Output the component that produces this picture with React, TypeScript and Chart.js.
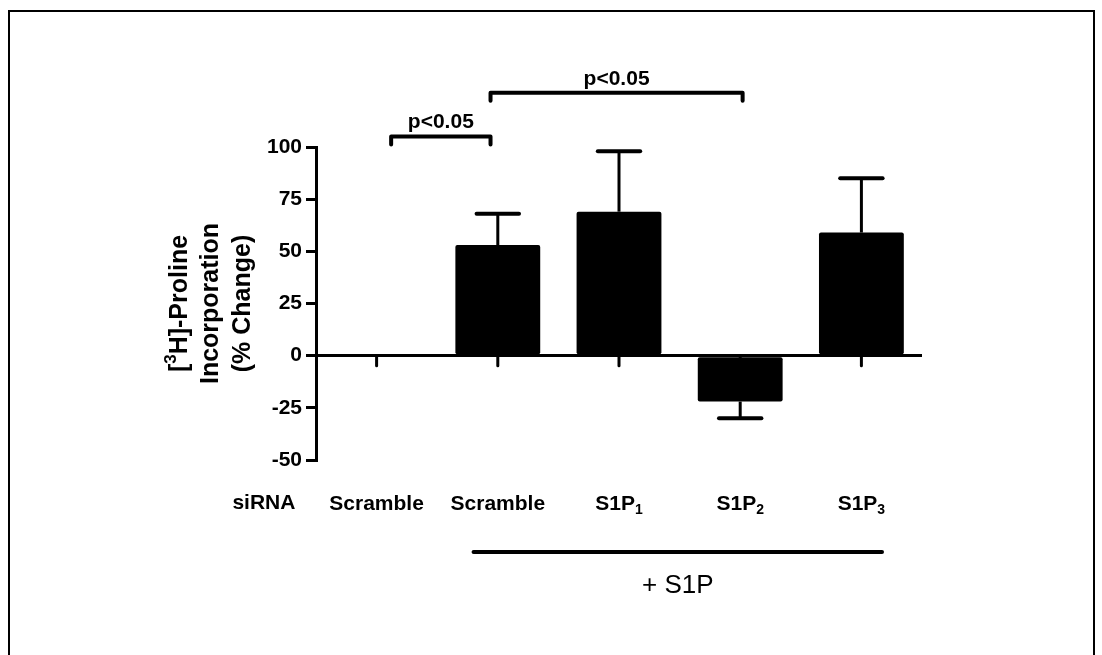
import React, { useEffect, useRef } from "react";
import { Chart, registerables } from "chart.js";

Chart.register(...registerables);

// ---- data ----
const categoryBase = ["Scramble", "Scramble", "S1P", "S1P", "S1P"];
const categorySub = ["", "", "1", "2", "3"];
const values = [0, 53, 69, -22, 59];
const errors = [0, 15, 29, 8, 26];
const yMin = -50;
const yMax = 100;
const yStep = 25;
const rowLabel = "siRNA";
const groupLabel = "+ S1P";
const groupFrom = 0.8; // category units
const groupTo = 4.17;
const bracketFrom = [0.12, 0.94];
const bracketTo = [0.94, 3.02];
const bracketLevel = [105, 126];
const bracketText = ["p<0.05", "p<0.05"];

const FONT = "Arial, 'Liberation Sans', sans-serif";

type Seg = { t: string; sup?: boolean; sub?: boolean };

function drawRich(ctx: CanvasRenderingContext2D, segs: Seg[], cx: number, cy: number, size: number) {
  const main = `bold ${size}px ${FONT}`;
  const small = `bold ${Math.round(size * 0.68)}px ${FONT}`;
  let total = 0;
  const widths = segs.map((s) => {
    ctx.font = s.sup || s.sub ? small : main;
    const w = ctx.measureText(s.t).width;
    total += w;
    return w;
  });
  let x = cx - total / 2;
  ctx.textAlign = "left";
  ctx.textBaseline = "middle";
  segs.forEach((s, i) => {
    ctx.font = s.sup || s.sub ? small : main;
    let dy = 0;
    if (s.sup) dy = -size * 0.35;
    if (s.sub) dy = size * 0.3;
    ctx.fillText(s.t, x, cy + dy);
    x += widths[i];
  });
}

const annotations = {
  id: "annotations",
  afterDatasetsDraw(chart: any) {
    const ctx: CanvasRenderingContext2D = chart.ctx;
    const xs = chart.scales.x;
    const ys = chart.scales.y;
    const area = chart.chartArea;
    const meta = chart.getDatasetMeta(0);
    const spacing = xs.getPixelForValue(1) - xs.getPixelForValue(0);
    const catX = (v: number) => xs.getPixelForValue(0) + v * spacing;
    const zeroY = ys.getPixelForValue(0);
    ctx.save();
    ctx.strokeStyle = "#000";
    ctx.fillStyle = "#000";

    // error bars
    values.forEach((v, i) => {
      if (!errors[i]) return;
      const bar = meta.data[i];
      const x = bar.x;
      const sign = v >= 0 ? 1 : -1;
      const y0 = ys.getPixelForValue(v);
      const y1 = ys.getPixelForValue(v + sign * errors[i]);
      ctx.lineWidth = 3;
      ctx.lineCap = "butt";
      ctx.beginPath();
      ctx.moveTo(x, y0);
      ctx.lineTo(x, y1);
      ctx.stroke();
      ctx.lineWidth = 4;
      ctx.lineCap = "round";
      ctx.beginPath();
      ctx.moveTo(x - spacing * 0.175, y1);
      ctx.lineTo(x + spacing * 0.175, y1);
      ctx.stroke();
    });

    // x tick marks at zero line
    ctx.lineWidth = 3;
    ctx.lineCap = "round";
    values.forEach((_, i) => {
      const x = xs.getPixelForValue(i);
      ctx.beginPath();
      ctx.moveTo(x, zeroY);
      ctx.lineTo(x, zeroY + 10);
      ctx.stroke();
    });

    // category labels with subscripts
    const labelY = area.bottom + 44;
    categoryBase.forEach((b, i) => {
      const segs: Seg[] = [{ t: b }];
      if (categorySub[i]) segs.push({ t: categorySub[i], sub: true });
      drawRich(ctx, segs, xs.getPixelForValue(i), labelY, 21);
    });
    drawRich(ctx, [{ t: rowLabel }], catX(-0.93), labelY - 1, 21);

    // group line and label
    const gy = area.bottom + 92;
    ctx.lineWidth = 4;
    ctx.lineCap = "round";
    ctx.beginPath();
    ctx.moveTo(catX(groupFrom), gy);
    ctx.lineTo(catX(groupTo), gy);
    ctx.stroke();
    ctx.font = `${26}px ${FONT}`;
    ctx.textAlign = "center";
    ctx.textBaseline = "middle";
    ctx.fillText(groupLabel, (catX(groupFrom) + catX(groupTo)) / 2, gy + 34);

    // significance brackets
    bracketText.forEach((t, i) => {
      const x1 = catX(bracketFrom[i]);
      const x2 = catX(bracketTo[i]);
      const y = ys.getPixelForValue(bracketLevel[i]);
      ctx.lineWidth = 4;
      ctx.lineCap = "round";
      ctx.lineJoin = "round";
      ctx.beginPath();
      ctx.moveTo(x1, y + 8);
      ctx.lineTo(x1, y);
      ctx.lineTo(x2, y);
      ctx.lineTo(x2, y + 8);
      ctx.stroke();
      drawRich(ctx, [{ t }], (x1 + x2) / 2, y - 14, 21);
    });

    // y-axis title (rotated)
    const cy = (area.top + area.bottom) / 2;
    const lines: Seg[][] = [
      [{ t: "[" }, { t: "3", sup: true }, { t: "H]-Proline" }],
      [{ t: "Incorporation" }],
      [{ t: "(% Change)" }],
    ];
    const lineX = [area.left - 136, area.left - 105, area.left - 73];
    lines.forEach((segs, i) => {
      ctx.save();
      ctx.translate(lineX[i], cy);
      ctx.rotate(-Math.PI / 2);
      drawRich(ctx, segs, 0, 0, 25);
      ctx.restore();
    });

    ctx.restore();
  },
};

export default function App() {
  const ref = useRef<HTMLCanvasElement | null>(null);
  useEffect(() => {
    if (!ref.current) return;
    const chart = new Chart(ref.current, {
      type: "bar",
      data: {
        labels: categoryBase.map((b, i) => b + categorySub[i]),
        datasets: [
          {
            data: values,
            backgroundColor: "#000",
            borderColor: "#000",
            borderWidth: 0,
            borderRadius: 2,
            borderSkipped: false,
            barPercentage: 0.7,
            categoryPercentage: 1,
          },
        ],
      },
      options: {
        animation: false,
        responsive: false,
        maintainAspectRatio: false,
        layout: { padding: { left: 256, right: 180, top: 147, bottom: 135 } },
        plugins: { legend: { display: false }, tooltip: { enabled: false }, title: { display: false } },
        scales: {
          x: {
            type: "category",
            offset: true,
            grid: { display: false, drawTicks: false },
            border: { display: false },
            ticks: { display: false },
            afterFit: (s: any) => {
              s.height = 60;
            },
          },
          y: {
            min: yMin,
            max: yMax,
            ticks: {
              stepSize: yStep,
              color: "#000",
              font: { family: FONT, size: 21, weight: "bold" },
              padding: 4,
            },
            grid: {
              color: (c: any) => (c.tick && c.tick.value === 0 ? "#000" : "rgba(0,0,0,0)"),
              tickColor: "#000",
              lineWidth: 3,
              tickLength: 10,
              drawTicks: true,
            },
            border: { display: true, color: "#000", width: 3 },
            afterFit: (s: any) => {
              s.width = 60;
            },
          },
        },
      },
      plugins: [annotations],
    });
    return () => chart.destroy();
  }, []);

  return (
    <div style={{ position: "fixed", left: 0, top: 0, width: 1102, height: 655, background: "#fff" }}>
      <div
        style={{
          position: "absolute",
          left: 8,
          top: 10,
          width: 1083,
          height: 645,
          borderTop: "2px solid #000",
          borderLeft: "2px solid #000",
          borderRight: "2px solid #000",
          boxSizing: "content-box",
        }}
      />
      <canvas ref={ref} width={1102} height={655} style={{ position: "absolute", left: 0, top: 0, width: 1102, height: 655 }} />
    </div>
  );
}
